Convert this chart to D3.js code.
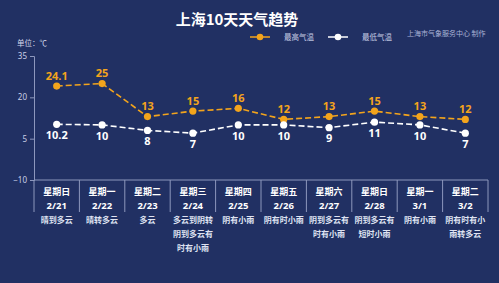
<!DOCTYPE html>
<html>
<head>
<meta charset="utf-8">
<script src="https://cdn.jsdelivr.net/npm/d3@7/dist/d3.min.js"></script>
<style>
  html, body { margin: 0; padding: 0; background: #213063; }
  svg { display: block; font-family: "Noto Sans CJK SC", "Noto Sans", sans-serif; }
</style>
</head>
<body>
<svg id="chart" width="499" height="283"></svg>
<script>
var weekdays = ["星期日", "星期一", "星期二", "星期三", "星期四", "星期五", "星期六", "星期日", "星期一", "星期二"],
    dates = ["2/21", "2/22", "2/23", "2/24", "2/25", "2/26", "2/27", "2/28", "3/1", "3/2"],
    weather = ["晴到多云", "晴转多云", "多云", "多云到阴转阴到多云有时有小雨", "阴有小雨", "阴有时小雨",
        "阴到多云有时有小雨", "阴到多云有短时小雨", "阴有小雨", "阴有时有小雨转多云"],
    highTemps = [24.1, 25, 13, 15, 16, 12, 13, 15, 13, 12],
    lowTemps = [10.2, 10, 8, 7, 10, 10, 9, 11, 10, 7],
    yTicks = [-10, 5, 20, 35];

var orange = "#f3a41c",
    white = "#ffffff",
    axisColor = "#8d97bd";

var svg = d3.select("#chart");

var x = d3.scaleBand().domain(dates).range([34, 488]).padding(0),
    y = d3.scaleLinear().domain([-10, 35]).range([180, 56]);

// title
svg.append("text")
    .attr("x", 237).attr("y", 25)
    .attr("text-anchor", "middle")
    .attr("font-size", 15).attr("font-weight", "bold")
    .attr("fill", white)
    .text("上海10天天气趋势");

// legend
var legend = [
    {name: "最高气温", color: orange, x: 250},
    {name: "最低气温", color: white, x: 328}
];
var lg = svg.append("g").selectAll("g").data(legend).join("g")
    .attr("transform", function (d) { return "translate(" + d.x + ",37)"; });
lg.append("line").attr("x1", 0).attr("x2", 20).attr("stroke", function (d) { return d.color; }).attr("stroke-width", 1.5);
lg.append("circle").attr("cx", 10).attr("r", 3.3).attr("fill", function (d) { return d.color; });
lg.append("text").attr("x", 34).attr("dy", "0.35em")
    .attr("font-size", 7.5).attr("fill", "#c5cbe3")
    .text(function (d) { return d.name; });

// watermark
svg.append("text")
    .attr("x", 407).attr("y", 36)
    .attr("font-size", 7).attr("fill", "#aab3d6")
    .text("上海市气象服务中心 制作");

// unit
svg.append("text")
    .attr("x", 17).attr("y", 46)
    .attr("font-size", 7.5).attr("fill", "#d3d8ea")
    .text("单位：℃");

// y axis
var yAxis = svg.append("g")
    .attr("transform", "translate(34,0)")
    .call(d3.axisLeft(y).tickValues(yTicks).tickSize(4).tickPadding(3));
yAxis.select(".domain").attr("stroke", axisColor);
yAxis.selectAll(".tick line").attr("stroke", axisColor);
yAxis.selectAll(".tick text").attr("fill", "#c9cfe6").attr("font-size", 8).attr("font-family", "Noto Sans, sans-serif");

// x baseline and column separators
svg.append("line")
    .attr("x1", x.range()[0]).attr("x2", x.range()[1])
    .attr("y1", y(-10)).attr("y2", y(-10))
    .attr("stroke", axisColor);
var bounds = dates.map(function (d) { return x(d); }).concat([x.range()[1]]);
svg.append("g").selectAll("line").data(bounds).join("line")
    .attr("x1", function (d) { return d; }).attr("x2", function (d) { return d; })
    .attr("y1", y(-10)).attr("y2", 212)
    .attr("stroke", axisColor);

var cx = function (d, i) { return x(dates[i]) + x.bandwidth() / 2; };

function drawSeries(values, color, labelDy) {
    var line = d3.line()
        .x(function (d, i) { return cx(d, i); })
        .y(function (d) { return y(d); });
    svg.append("path")
        .datum(values)
        .attr("d", line)
        .attr("fill", "none")
        .attr("stroke", color)
        .attr("stroke-width", 1.6)
        .attr("stroke-dasharray", "6,3");
    svg.append("g").selectAll("circle").data(values).join("circle")
        .attr("cx", cx).attr("cy", function (d) { return y(d); })
        .attr("r", 3.6).attr("fill", color);
    svg.append("g").selectAll("text").data(values).join("text")
        .attr("x", cx).attr("y", function (d) { return y(d) + labelDy; })
        .attr("text-anchor", "middle")
        .attr("dy", "0.35em")
        .attr("font-size", 11).attr("font-weight", "bold")
        .attr("font-family", "Noto Sans, sans-serif")
        .attr("fill", color)
        .text(function (d) { return d; });
}

drawSeries(highTemps, orange, -10);
drawSeries(lowTemps, white, 11);

// bottom day labels
var cols = svg.append("g").selectAll("g").data(dates).join("g")
    .attr("transform", function (d) { return "translate(" + (x(d) + x.bandwidth() / 2) + ",0)"; });
cols.append("text")
    .attr("y", 192).attr("dy", "0.35em").attr("text-anchor", "middle")
    .attr("font-size", 9).attr("font-weight", "bold").attr("fill", white)
    .text(function (d, i) { return weekdays[i]; });
cols.append("text")
    .attr("y", 206).attr("dy", "0.35em").attr("text-anchor", "middle")
    .attr("font-size", 9.5).attr("font-weight", "bold").attr("fill", white)
    .attr("font-family", "Noto Sans, sans-serif")
    .text(function (d) { return d; });
cols.each(function (d, i) {
    var s = weather[i], lines = [];
    for (var k = 0; k < s.length; k += 5) lines.push(s.slice(k, k + 5));
    d3.select(this).selectAll("text.w").data(lines).join("text")
        .attr("class", "w")
        .attr("y", function (l, j) { return 220 + j * 14; })
        .attr("dy", "0.35em").attr("text-anchor", "middle")
        .attr("font-size", 8).attr("font-weight", "bold").attr("fill", "#dfe3f2")
        .text(function (l) { return l; });
});
</script>
</body>
</html>
